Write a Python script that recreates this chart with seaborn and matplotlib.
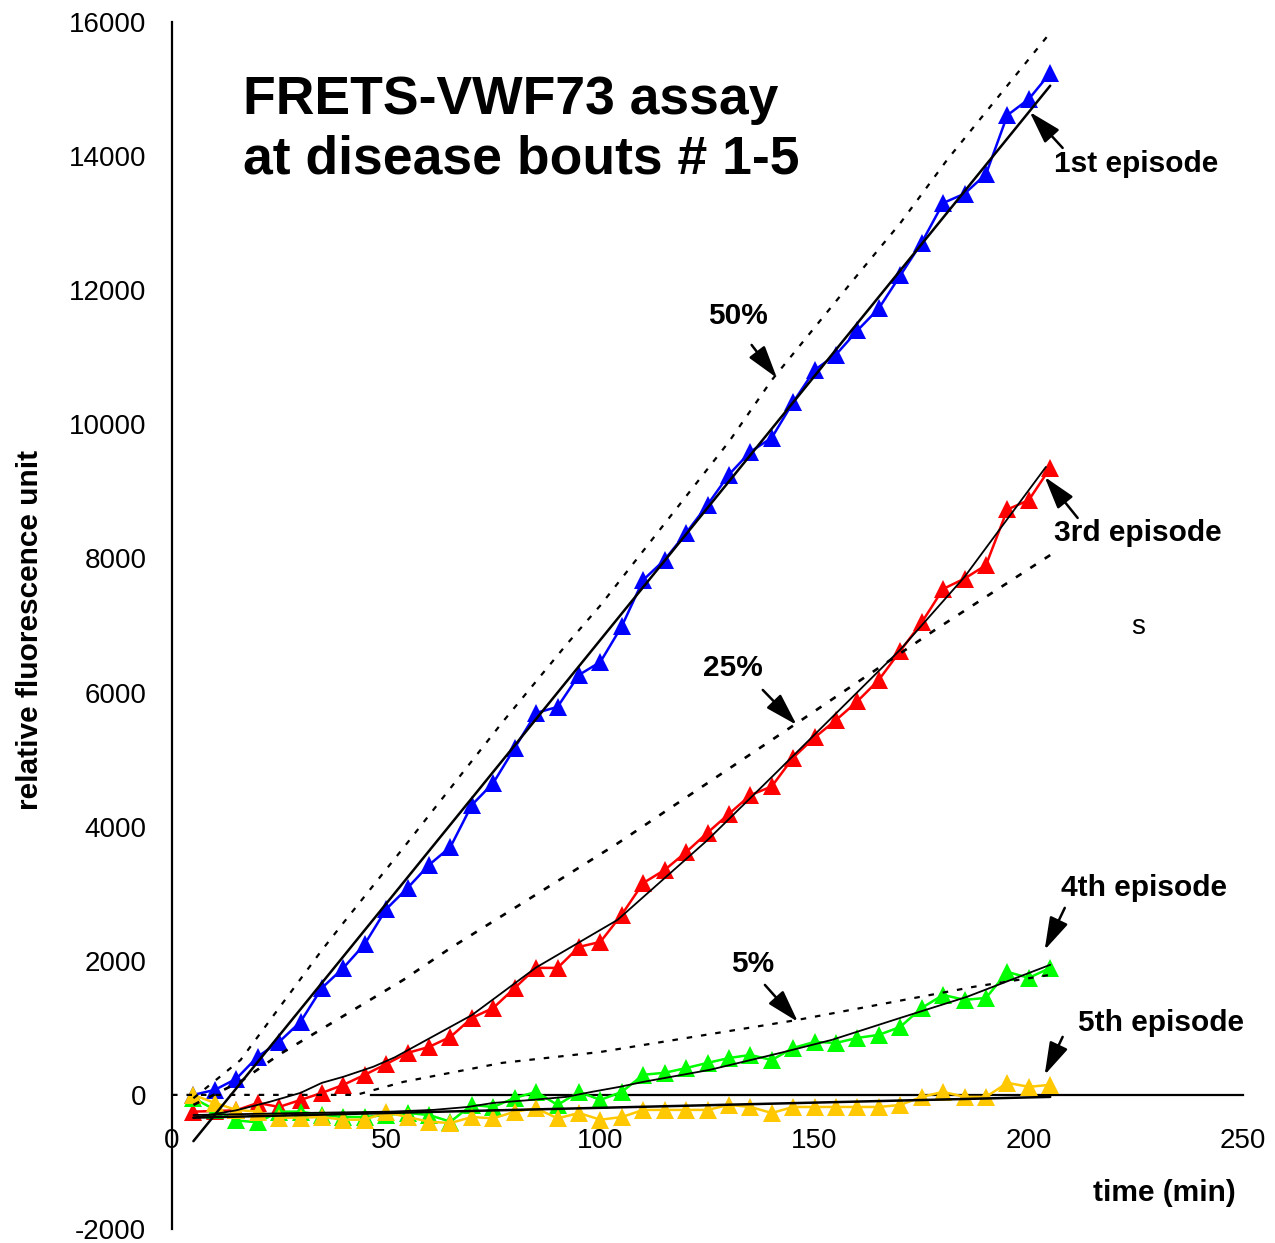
import matplotlib
matplotlib.use("Agg")
import matplotlib.pyplot as plt
import seaborn as sns
import pandas as pd

# Sampling times (min)
time_min = [5, 10, 15, 20, 25, 30, 35, 40, 45, 50, 55, 60, 65, 70, 75, 80, 85, 90, 95, 100,
            105, 110, 115, 120, 125, 130, 135, 140, 145, 150, 155, 160, 165, 170, 175, 180,
            185, 190, 195, 200, 205]

# Relative fluorescence per disease episode
episode1 = [0, 75, 240, 570, 790, 1090, 1595, 1894, 2250, 2770, 3087, 3430, 3698, 4324, 4653,
            5174, 5696, 5786, 6263, 6457, 6990, 7680, 7980, 8380, 8800, 9250, 9590, 9800, 10330,
            10810, 11040, 11400, 11730, 12220, 12710, 13300, 13440, 13730, 14610, 14850, 15240]
episode3 = [-250, -240, -230, -120, -180, -75, 30, 150, 300, 460, 626, 716, 865, 1148, 1297,
            1595, 1894, 1894, 2207, 2282, 2690, 3160, 3355, 3620, 3910, 4190, 4470, 4600, 5030,
            5330, 5590, 5870, 6190, 6620, 7045, 7545, 7700, 7900, 8730, 8870, 9350]
episode4 = [-50, -220, -380, -410, -250, -250, -300, -330, -330, -300, -270, -300, -400, -150,
            -180, -45, 45, -150, 45, -75, 45, 300, 330, 400, 477, 550, 596, 520, 700, 790, 775,
            850, 895, 1014, 1297, 1491, 1417, 1446, 1834, 1745, 1894]
episode5 = [0, -120, -224, -250, -340, -340, -330, -370, -370, -260, -330, -400, -420, -330,
            -350, -250, -200, -350, -270, -370, -330, -224, -224, -224, -224, -150, -180, -270,
            -180, -180, -180, -180, -180, -150, -30, 45, -30, -30, 180, 120, 150]

# Reference dilution traces (50 %, 25 %, 5 % normal plasma)
ref50_t = [5, 16, 35, 40, 54, 77, 92, 100, 130, 140, 159, 170, 181, 205]
ref50_v = [-50, 520, 2160, 2565, 3683, 5547, 6710, 7300, 9740, 10660, 12150, 13000, 13950, 15840]
ref25_t = [5, 16, 25, 54, 65, 83, 104, 146, 178, 205]
ref25_v = [-150, 200, 600, 1715, 2190, 2908, 3750, 5550, 6930, 8050]
ref5_t = [0, 43, 54, 77, 100, 146, 187, 205]
ref5_v = [0, 0, 194, 477, 640, 1118, 1610, 1790]

# Continuous kinetic traces and linear fits
trace3_t = [5, 15, 23, 30, 35, 40, 47, 52, 70, 85, 104, 125, 140, 170, 185, 204]
trace3_v = [-340, -230, -100, 30, 180, 270, 420, 560, 1190, 1900, 2610, 3800, 4740, 6640, 7725, 9365]
trace4_t = [5, 30, 51, 61, 69, 75, 84, 92, 98, 104.5, 110, 125.5, 142, 154, 170, 185.5, 205]
trace4_v = [-300, -270, -250, -224, -180, -120, -75, -30, 45, 120, 194, 373, 626, 820, 1148, 1461, 1940]
fit1_t = [5, 205]
fit1_v = [-690, 15050]
fit5_t = [5, 205]
fit5_v = [-340, -30]

sns.set_style("white")
plt.rcParams["font.family"] = ["Liberation Sans", "DejaVu Sans"]
plt.rcParams["text.color"] = "black"
plt.rcParams["axes.labelcolor"] = "black"
plt.rcParams["axes.unicode_minus"] = False

fig = plt.figure(figsize=(12.75, 12.43), dpi=100)
ax = fig.add_axes([172 / 1275, 1 - 1229 / 1243, (1243 - 172) / 1275, (1229 - 22) / 1243])

df = pd.DataFrame({"time": time_min, "ep1": episode1, "ep3": episode3,
                   "ep4": episode4, "ep5": episode5})
series = [("ep1", "#0000FF"), ("ep3", "#FF0000"), ("ep4", "#00FF00"), ("ep5", "#FFC800")]
for col, colour in series:
    sns.lineplot(data=df, x="time", y=col, ax=ax, color=colour, lw=1.8, marker="^",
                 markersize=13.5, markeredgewidth=0, errorbar=None, zorder=3)

dot = (0, (2.5, 4))
ax.plot(ref50_t, ref50_v, color="black", lw=1.6, ls=dot, zorder=4)
ax.plot(ref25_t, ref25_v, color="black", lw=1.9, ls=dot, zorder=4)
ax.plot(ref5_t, ref5_v, color="black", lw=1.6, ls=dot, zorder=4)
ax.plot(trace3_t, trace3_v, color="black", lw=1.3, zorder=4)
ax.plot(trace4_t, trace4_v, color="black", lw=1.3, zorder=4)
ax.plot(fit1_t, fit1_v, color="black", lw=1.8, zorder=4)
ax.plot(fit5_t, fit5_v, color="black", lw=1.8, zorder=4)

ax.set_xlim(0, 250)
ax.set_ylim(-2000, 16000)
ax.set_xticks([0, 50, 100, 150, 200, 250])
ax.set_yticks(list(range(-2000, 16001, 2000)))
ax.set_xlabel("")
ax.set_ylabel("")

for side in ("top", "right"):
    ax.spines[side].set_visible(False)
ax.spines["bottom"].set_position(("data", 0))
ax.spines["bottom"].set_bounds(46.5, 250)
for side in ("bottom", "left"):
    ax.spines[side].set_linewidth(1.6)
    ax.spines[side].set_color("black")
ax.tick_params(axis="both", direction="out", length=8.5, width=1.6, color="black",
               labelsize=20, labelcolor="black")
ax.tick_params(axis="x", pad=15)
ax.tick_params(axis="y", pad=10)
ax.patch.set_alpha(0)

bold = dict(fontsize=21.5, fontweight="bold", color="black")
ax.text(16.6, 14837, "FRETS-VWF73 assay", fontsize=38.5, fontweight="bold", ha="left", va="center")
ax.text(16.6, 13943, "at disease bouts # 1-5", fontsize=38.5, fontweight="bold", ha="left", va="center")
ax.text(132.1, 11617, "50%", ha="center", va="center", **bold)
ax.text(130.9, 6367, "25%", ha="center", va="center", **bold)
ax.text(135.6, 1953, "5%", ha="center", va="center", **bold)
ax.text(225.1, 13883, "1st episode", ha="center", va="center", **bold)
ax.text(225.4, 8381, "3rd episode", ha="center", va="center", **bold)
ax.text(226.8, 3087, "4th episode", ha="center", va="center", **bold)
ax.text(230.8, 1074, "5th episode", ha="center", va="center", **bold)
ax.text(225.6, 6979, "s", ha="center", va="center", fontsize=20)
ax.text(231.7, -1461, "time (min)", ha="center", va="center", **bold)
fig.text(30 / 1275, 1 - 630 / 1243, "relative fluorescence unit", rotation=90,
         ha="center", va="center", **bold)

arrows = [((135.3, 11184), (141.2, 10692)),
          ((137.9, 6039), (145.8, 5518)),
          ((138.4, 1640), (146.1, 1089)),
          ((207.9, 14122), (200.2, 14659)),
          ((211.4, 8604), (203.7, 9216)),
          ((208.4, 2789), (203.7, 2162)),
          ((207.9, 865), (203.7, 298))]
for tail, head in arrows:
    ax.annotate("", xy=head, xytext=tail,
                arrowprops=dict(arrowstyle="-|>,head_length=1.0,head_width=0.3",
                                mutation_scale=20, color="black", lw=1.8,
                                shrinkA=0, shrinkB=0), zorder=5)

fig.savefig("out.png", dpi=100, facecolor="white")
